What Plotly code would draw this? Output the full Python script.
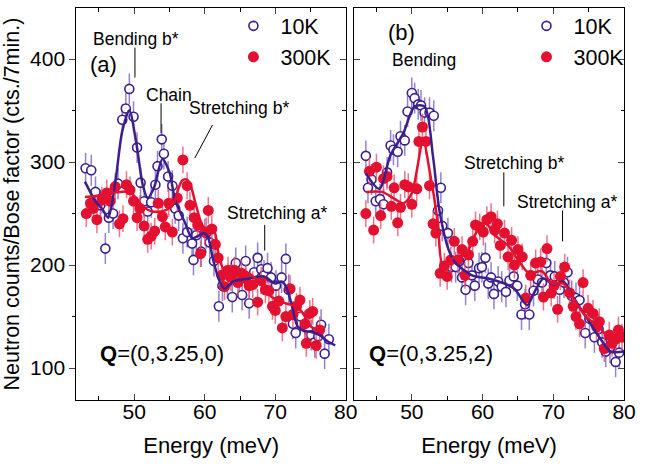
import plotly.graph_objects as go

# ---------------- data ----------------
# Panel (a): Q=(0,3.25,0)
a10_E = [43.1, 43.9, 44.5, 45.2, 45.9, 46.4, 47.0, 47.7, 48.3, 48.8, 49.3, 49.9, 50.4, 50.9, 51.4, 51.9,
         52.4, 53.0, 53.3, 53.9, 54.2, 54.8, 55.4, 55.8, 56.3, 56.9, 57.5, 58.2, 58.4, 58.8, 59.5, 60.2,
         60.7, 61.3, 62.0, 62.5, 63.2, 63.9, 64.4, 64.9, 65.3, 65.8, 66.3, 67.0, 67.5, 68.0, 68.4, 68.9,
         69.4, 70.1, 70.9, 71.5, 71.9, 72.5, 72.9, 73.6, 74.2, 74.7, 75.1, 75.6, 76.1, 76.5, 77.0, 77.6]
a10_V = [294, 292, 271, 258, 216, 246, 250, 279, 341, 352, 371, 344, 314, 280, 262, 252,
         261, 278, 296, 322, 308, 286, 277, 255, 248, 226, 232, 221, 205, 229, 213, 231,
         222, 204, 160, 180, 183, 169, 202, 186, 171, 204, 163, 193, 207, 196, 190, 197,
         188, 180, 188, 206, 176, 143, 134, 150, 140, 137, 132, 125, 131, 142, 114, 128]
a300_E = [43.2, 43.8, 44.2, 44.7, 45.4, 46.1, 46.6, 47.3, 47.9, 48.4, 48.9, 49.4, 49.9, 50.4, 50.8, 51.4,
          51.9, 52.4, 52.9, 53.4, 54.0, 54.4, 54.9, 55.4, 56.1, 56.9, 57.5, 57.9, 58.5, 59.0, 59.4, 60.0,
          60.5, 61.0, 61.5, 61.9, 62.4, 62.8, 63.3, 63.7, 64.2, 64.7, 65.2, 65.8, 66.3, 66.8, 67.5, 68.0,
          68.6, 69.1, 69.6, 70.0, 70.5, 71.0, 71.5, 72.1, 72.5, 73.0, 73.5, 74.2, 74.4, 74.9, 75.3, 75.8, 76.3]
a300_V = [250, 260, 255, 244, 263, 270, 262, 276, 240, 245, 278, 273, 262, 246, 255, 238,
          225, 228, 233, 260, 247, 237, 260, 232, 265, 302, 277, 258, 246, 239, 211, 232,
          253, 235, 220, 207, 190, 179, 195, 188, 195, 183, 192, 187, 180, 181, 164, 185,
          176, 175, 160, 156, 165, 139, 150, 177, 152, 160, 166, 143, 124, 153, 155, 122, 137]
a10_fit_E = [43.0, 44.5, 45.5, 46.3, 47.3, 48.3, 49.3, 50.3, 51.2, 51.9, 52.8, 54.0, 55.0, 55.8, 57.2,
             58.2, 59.0, 59.8, 60.4, 61.2, 62.0, 62.8, 64.0, 66.3, 68.4, 70.0, 70.9, 71.6, 72.3, 73.2,
             74.2, 75.1, 76.3, 77.4, 78.5]
a10_fit_V = [281, 262, 254, 246, 280, 330, 350, 318, 278, 265, 275, 303, 290, 263, 241,
             226, 228, 231, 228, 205, 186, 177, 184, 187, 189, 182, 184, 178, 162, 140,
             136, 135, 132, 126, 122]
a300_fit_E = [43.0, 44.5, 46.6, 48.0, 49.3, 50.3, 51.2, 52.6, 54.4, 55.6, 56.3, 56.8, 57.4, 57.9, 58.8,
              59.8, 60.9, 61.4, 62.1, 63.1, 64.2, 65.4, 67.2, 68.4, 69.5, 71.4, 73.2, 74.2, 75.1, 76.9]
a300_fit_V = [266, 267, 270, 271, 271, 265, 257, 252, 253, 260, 275, 282, 283, 279, 257,
              237, 234, 232, 205, 192, 193, 195, 187, 178, 169, 163, 159, 150, 140, 135]

# Panel (b): Q=(0,3.25,2)
b10_E = [43.5, 43.8, 44.3, 44.9, 45.5, 46.0, 46.5, 47.0, 47.4, 48.0, 48.4, 49.0, 49.4, 50.0, 50.4, 50.9,
         51.3, 51.8, 52.5, 53.1, 53.7, 54.1, 54.3, 55.1, 55.6, 56.2, 56.7, 57.1, 57.6, 58.0, 58.5, 58.9,
         59.5, 59.9, 60.4, 60.8, 61.2, 61.6, 62.2, 62.7, 63.3, 63.8, 64.4, 64.9, 65.5, 66.0, 66.6, 67.2,
         67.8, 68.4, 69.0, 69.6, 70.2, 70.9, 71.5, 72.0, 72.6, 73.2, 73.7, 74.5, 75.1, 75.8, 76.4, 76.9,
         77.4, 78.0, 78.8, 79.3]
b10_V = [306, 275, 283, 262, 264, 259, 290, 316, 312, 310, 325, 321, 349, 367, 362, 356,
         355, 348, 348, 345, 253, 275, 238, 231, 198, 198, 204, 188, 176, 202, 190, 180,
         197, 198, 207, 182, 188, 172, 184, 179, 174, 185, 189, 180, 152, 162, 152, 175,
         186, 183, 202, 190, 189, 176, 183, 193, 170, 168, 166, 134, 148, 130, 138, 125,
         116, 120, 106, 115]
b300_E = [43.5, 44.0, 44.6, 45.0, 45.6, 46.0, 46.5, 47.1, 47.5, 48.0, 48.4, 49.0, 49.5, 50.0, 50.7, 51.0,
          51.5, 52.0, 52.5, 53.0, 53.4, 54.0, 54.6, 55.0, 55.5, 56.0, 56.5, 57.1, 57.5, 58.0, 58.6, 59.0,
          59.6, 60.1, 60.6, 61.2, 61.7, 62.1, 62.5, 63.1, 63.6, 64.1, 64.5, 65.0, 65.6, 66.1, 66.8, 67.5,
          68.2, 68.6, 69.1, 69.7, 70.1, 70.6, 71.0, 71.6, 72.3, 72.8, 73.2, 73.7, 74.2, 74.9, 75.6, 76.1,
          76.5, 77.2, 77.9, 78.3, 78.8, 79.2, 79.7]
b300_V = [250, 291, 234, 295, 248, 284, 286, 257, 275, 241, 256, 278, 276, 259, 274, 320,
          334, 320, 277, 240, 231, 192, 199, 189, 205, 223, 205, 215, 190, 210, 223, 239,
          237, 232, 244, 247, 234, 240, 219, 231, 208, 224, 200, 215, 208, 168, 190, 202,
          203, 169, 216, 173, 180, 157, 189, 198, 173, 160, 150, 143, 183, 158, 153, 140,
          145, 119, 132, 124, 128, 137, 130]
b10_fit_E = [43.5, 45.4, 47.0, 48.8, 50.4, 51.8, 53.0, 53.9, 55.3, 56.2, 58.5, 60.8, 63.1, 64.5, 66.3,
             67.2, 68.6, 70.0, 71.4, 72.8, 74.6, 76.5, 78.1, 80.0]
b10_fit_V = [289, 274, 307, 328, 354, 354, 305, 253, 213, 202, 190, 187, 182, 177, 161,
             172, 187, 181, 184, 169, 150, 130, 116, 116]
b300_fit_E = [43.5, 45.8, 47.4, 48.8, 50.0, 51.6, 52.5, 53.7, 54.3, 55.3, 56.2, 57.6, 58.9, 60.3, 61.7,
              63.6, 65.0, 66.6, 68.4, 69.8, 71.4, 73.0, 74.6, 76.5, 78.1, 80.0]
b300_fit_V = [271, 271, 265, 260, 270, 321, 292, 240, 202, 205, 208, 210, 229, 242, 229,
              219, 205, 192, 194, 182, 182, 166, 150, 140, 127, 135]

err_10K = 15
err_300K = 13

x_ticks = [50, 60, 70, 80]
y_ticks = [100, 200, 300, 400]

BLUE = "#3b1f8e"
RED = "#e3102f"
BLUE_ERR = "rgba(110,90,190,0.75)"
RED_ERR = "rgba(235,80,105,0.8)"
FONT = "Liberation Sans, Arial, sans-serif"

fig = go.Figure()


def add_panel(xa, ya, E10, V10, E300, V300, fE10, fV10, fE300, fV300, leg):
    fig.add_trace(go.Scatter(
        x=E10, y=V10, mode="markers", name="10K", xaxis=xa, yaxis=ya, legend=leg,
        marker=dict(symbol="circle", size=9, color="white", line=dict(color=BLUE, width=1.6)),
        error_y=dict(type="constant", value=err_10K, color=BLUE_ERR, thickness=1.5, width=0)))
    fig.add_trace(go.Scatter(
        x=E300, y=V300, mode="markers", name="300K", xaxis=xa, yaxis=ya, legend=leg,
        marker=dict(symbol="circle", size=11, color=RED),
        error_y=dict(type="constant", value=err_300K, color=RED_ERR, thickness=1.5, width=0)))
    fig.add_trace(go.Scatter(
        x=fE10, y=fV10, mode="lines", showlegend=False, xaxis=xa, yaxis=ya,
        line=dict(color=BLUE, width=2.5, shape="spline", smoothing=0.8)))
    fig.add_trace(go.Scatter(
        x=fE300, y=fV300, mode="lines", showlegend=False, xaxis=xa, yaxis=ya,
        line=dict(color=RED, width=2.5, shape="spline", smoothing=0.8)))


add_panel("x", "y", a10_E, a10_V, a300_E, a300_V, a10_fit_E, a10_fit_V, a300_fit_E, a300_fit_V, "legend")
add_panel("x2", "y2", b10_E, b10_V, b300_E, b300_V, b10_fit_E, b10_fit_V, b300_fit_E, b300_fit_V, "legend2")

YR = [69, 449.5]
XR = [41.8, 80.02]
YDOM = [0.1416, 0.9828]

xcommon = dict(range=XR, tickvals=x_ticks, ticks="inside", ticklen=6, tickwidth=1.2, mirror="ticks",
               showline=True, linecolor="black", linewidth=1.2, showgrid=False, zeroline=False,
               ticklabelstandoff=-7,
               tickfont=dict(size=21, family=FONT, color="black"),
               minor=dict(dtick=5, tick0=45, ticks="inside", ticklen=3.5, tickcolor="black", tickwidth=1),
               title=dict(text="Energy (meV)", font=dict(size=22, family=FONT, color="black")))

fig.update_layout(
    width=648, height=466,
    margin=dict(l=0, r=0, t=0, b=0),
    paper_bgcolor="white", plot_bgcolor="white",
    font=dict(family=FONT, color="black"),
    xaxis=dict(domain=[0.1188, 0.5432], anchor="y", **xcommon),
    xaxis2=dict(domain=[0.5556, 0.9815], anchor="y2", **xcommon),
    yaxis=dict(domain=YDOM, range=YR, anchor="x", tickvals=y_ticks, ticks="outside", ticklen=6, tickwidth=1.2,
               showline=True, mirror=True, linecolor="black", linewidth=1.2, showgrid=False, zeroline=False,
               tickfont=dict(size=21, family=FONT, color="black"),
               minor=dict(dtick=50, ticks="outside", ticklen=3.5, tickcolor="black", tickwidth=1),
               title=dict(text="Neutron counts/Bose factor (cts./7min.)",
                          font=dict(size=21.5, family=FONT, color="black"))),
    yaxis3=dict(domain=YDOM, range=YR, anchor="x", overlaying="y", side="right", tickvals=y_ticks,
                ticks="inside", ticklen=6, tickwidth=1.2, showticklabels=False, showline=False,
                showgrid=False, zeroline=False,
                minor=dict(dtick=50, ticks="inside", ticklen=3.5, tickcolor="black", tickwidth=1)),
    yaxis2=dict(domain=YDOM, range=YR, anchor="x2", tickvals=y_ticks, ticks="inside", ticklen=6,
                tickwidth=1.2, mirror="ticks", showticklabels=False, showline=True, linecolor="black",
                linewidth=1.2, showgrid=False, zeroline=False,
                minor=dict(dtick=50, ticks="inside", ticklen=3.5, tickcolor="black", tickwidth=1)),
    legend=dict(x=0.355, y=0.9885, xanchor="left", yanchor="top", bgcolor="rgba(0,0,0,0)", itemwidth=44,
                font=dict(size=21.5, family=FONT, color="black"), tracegroupgap=0),
    legend2=dict(x=0.8165, y=0.9885, xanchor="left", yanchor="top", bgcolor="rgba(0,0,0,0)", itemwidth=44,
                 font=dict(size=21.5, family=FONT, color="black"), tracegroupgap=0),
)

# dummy trace so yaxis3 is drawn
fig.add_trace(go.Scatter(x=[None], y=[None], xaxis="x", yaxis="y3", showlegend=False, hoverinfo="skip"))

ann_font = dict(size=17.5, family=FONT, color="black")
big_font = dict(size=22, family=FONT, color="black")
q_font = dict(size=22, family=FONT, color="black")
annots = [
    ("x", "y", 50.2, 419, "Bending b*", ann_font),
    ("x", "y", 54.9, 365, "Chain", ann_font),
    ("x", "y", 64.9, 352, "Stretching b*", ann_font),
    ("x", "y", 70.3, 251, "Stretching a*", ann_font),
    ("x", "y", 45.6, 395, "(a)", big_font),
    ("x", "y", 54.0, 114, "<b>Q</b>=(0,3.25,0)", q_font),
    ("x2", "y2", 48.5, 426, "(b)", big_font),
    ("x2", "y2", 51.7, 399, "Bending", ann_font),
    ("x2", "y2", 64.4, 299, "Stretching b*", ann_font),
    ("x2", "y2", 71.9, 261, "Stretching a*", ann_font),
    ("x2", "y2", 52.7, 114, "<b>Q</b>=(0,3.25,2)", q_font),
]
for xr, yr, xx, yy, txt, f in annots:
    fig.add_annotation(x=xx, y=yy, xref=xr, yref=yr, text=txt, showarrow=False, font=f)

leaders = [
    ("x", "y", 50.1, 411, 50.1, 382),
    ("x", "y", 53.8, 357, 53.8, 328),
    ("x", "y", 61.1, 336, 58.6, 304),
    ("x", "y", 68.5, 239, 68.5, 214),
    ("x2", "y2", 63.0, 290, 63.0, 257),
    ("x2", "y2", 71.3, 253, 71.3, 223),
]
for xr, yr, x0, y0, x1, y1 in leaders:
    fig.add_shape(type="line", xref=xr, yref=yr, x0=x0, y0=y0, x1=x1, y1=y1,
                  line=dict(color="black", width=1))

fig.write_html("out.html")
